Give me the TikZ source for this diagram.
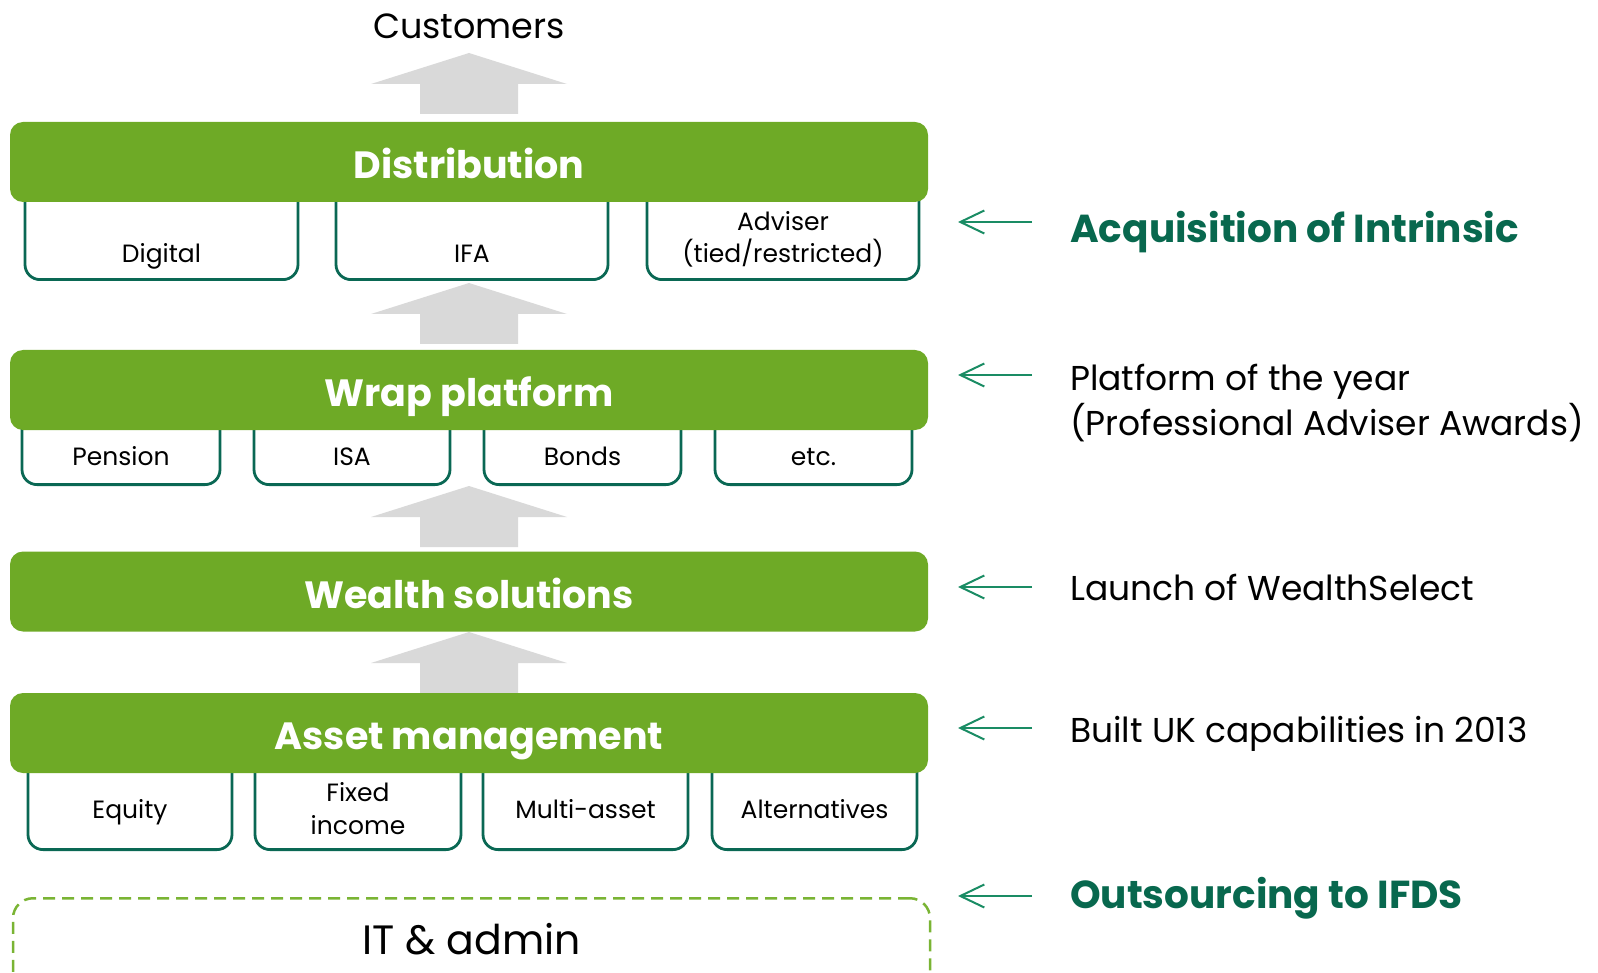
\documentclass[tikz,border=0pt]{standalone}
\usepackage{fontspec}
\setmainfont{Poppins}
\usetikzlibrary{arrows.meta}

\definecolor{barGreen}{RGB}{110,170,38}
\definecolor{boxEdge}{RGB}{10,104,84}
\definecolor{noteGreen}{RGB}{8,104,78}
\definecolor{noteArrow}{RGB}{26,140,100}
\definecolor{dashGreen}{RGB}{122,180,52}
\definecolor{blockGrey}{RGB}{217,217,217}

\begin{document}
\begin{tikzpicture}[x=1pt,y=-1pt,
    bar/.style={fill=barGreen, rounded corners=13pt, text=white, inner sep=0pt,
      minimum width=918pt, minimum height=80pt, text height=33pt, text depth=0pt,
      font=\fontsize{38}{46}\selectfont\bfseries},
    subbox/.style={draw=boxEdge, fill=white, line width=2.8pt, rounded corners=15pt,
      inner sep=0pt, anchor=south},
    subtext/.style={anchor=base, inner sep=0pt, align=center,
      font=\fontsize{25}{32.5}\selectfont},
    note/.style={anchor=base west, inner sep=0pt, align=left,
      font=\fontsize{34.5}{45}\selectfont},
    hilite/.style={note, text=noteGreen, font=\fontsize{39}{45}\selectfont\bfseries},
    notearrow/.style={draw=noteArrow, line width=2pt,
      -{Straight Barb[length=24pt,width=23pt,line width=2pt]}}]
	\useasboundingbox (0,0) rectangle (1598,973);
	\clip (0,0) rectangle (1598,973);

	% grey block arrows between the layers
	\foreach \ty in {53,283,486,632}
		\fill[blockGrey] (469,\ty) -- (567,\ty+31) -- (518,\ty+31) -- (518,\ty+61)
			-- (420,\ty+61) -- (420,\ty+31) -- (371,\ty+31) -- cycle;

	\node[anchor=base, inner sep=0pt, font=\fontsize{35}{40}\selectfont] (customers) at (469,39) {Customers};

	% boxes under the bars
	\node[subbox, minimum width=273pt, minimum height=120pt] (digital) at (161.5,281) {};
	\node[subbox, minimum width=272pt, minimum height=120pt] (ifa) at (472,281) {};
	\node[subbox, minimum width=272pt, minimum height=120pt] (adviser) at (783,281) {};
	\node[subbox, minimum width=198pt, minimum height=100pt] (pension) at (121,486) {};
	\node[subbox, minimum width=196pt, minimum height=100pt] (isa) at (352,486) {};
	\node[subbox, minimum width=197pt, minimum height=100pt] (bonds) at (582.5,486) {};
	\node[subbox, minimum width=197pt, minimum height=100pt] (etc) at (813.5,486) {};
	\node[subbox, minimum width=204pt, minimum height=120pt] (equity) at (130,851) {};
	\node[subbox, minimum width=206pt, minimum height=120pt] (fixed) at (358,851) {};
	\node[subbox, minimum width=205pt, minimum height=120pt] (multi) at (585.5,851) {};
	\node[subbox, minimum width=205pt, minimum height=120pt] (alt) at (814.5,851) {};

	% box labels
	\node[subtext] (digitalt) at (161.5,263) {Digital};
	\node[subtext] (ifat) at (472,263) {IFA};
	\node[subtext] (advisert) at (783,263) {Adviser\\(tied/restricted)};
	\node[subtext] (pensiont) at (121,465) {Pension};
	\node[subtext] (isat) at (352,465) {ISA};
	\node[subtext] (bondst) at (582.5,465) {Bonds};
	\node[subtext] (etct) at (813.5,465) {etc.};
	\node[subtext] (equityt) at (130,818) {Equity};
	\node[subtext] (fixedt) at (358,834) {Fixed\\income};
	\node[subtext] (multit) at (585.5,818) {Multi-asset};
	\node[subtext] (altt) at (814.5,818) {Alternatives};

	% the four layers
	\node[bar] (distribution) at (469,162) {Distribution};
	\node[bar] (wrap) at (469,390) {Wrap platform};
	\node[bar] (wealth) at (469,591.5) {Wealth solutions};
	\node[bar] (asset) at (469,733) {Asset management};

	% outsourced base
	\node[draw=dashGreen, line width=2.5pt, dash pattern=on 12pt off 7pt, rounded corners=20pt,
		minimum width=917pt, minimum height=130pt, anchor=north] (itbox) at (471.5,897) {};
	\node[anchor=base, inner sep=0pt, font=\fontsize{41}{46}\selectfont] (itadmin) at (471.5,954) {IT \& admin};

	% notes on the right
	\node[hilite] (acquisition) at (1070,243) {Acquisition of Intrinsic};
	\node[note] (platform) at (1070,435) {Platform of the year\\(Professional Adviser Awards)};
	\node[note] (launch) at (1070,600) {Launch of WealthSelect};
	\node[note] (built) at (1070,742) {Built UK capabilities in 2013};
	\node[hilite] (outsourcing) at (1070,908) {Outsourcing to IFDS};

	% arrows
	\coordinate (a1) at (1032,222); \coordinate (b1) at (958,222);
	\coordinate (a2) at (1032,375); \coordinate (b2) at (958,375);
	\coordinate (a3) at (1032,587); \coordinate (b3) at (958,587);
	\coordinate (a4) at (1032,728); \coordinate (b4) at (958,728);
	\coordinate (a5) at (1032,896); \coordinate (b5) at (958,896);
	\draw[notearrow] (a1) -- (b1);
	\draw[notearrow] (a2) -- (b2);
	\draw[notearrow] (a3) -- (b3);
	\draw[notearrow] (a4) -- (b4);
	\draw[notearrow] (a5) -- (b5);
\end{tikzpicture}
\end{document}
